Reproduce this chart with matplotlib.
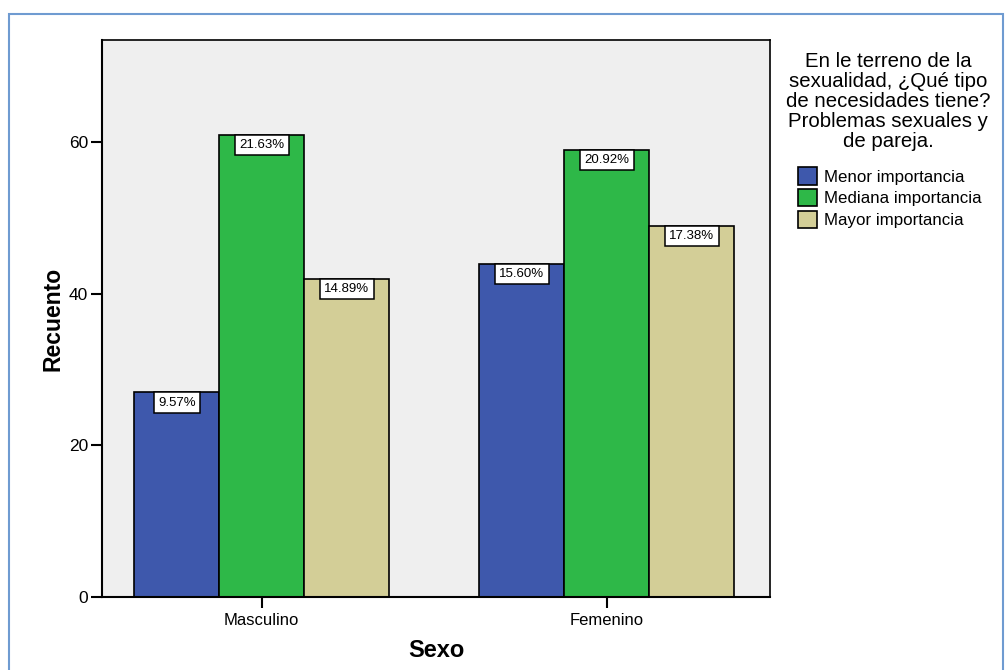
import numpy as np
import matplotlib.pyplot as plt
from matplotlib.patches import Rectangle

plt.rcParams['font.family'] = ['Liberation Sans', 'DejaVu Sans']

sexos = ['Masculino', 'Femenino']
categorias = ['Menor importancia', 'Mediana importancia', 'Mayor importancia']
recuentos = {
    'Menor importancia': [27, 44],
    'Mediana importancia': [61, 59],
    'Mayor importancia': [42, 49],
}
porcentajes = {
    'Menor importancia': ['9.57%', '15.60%'],
    'Mediana importancia': ['21.63%', '20.92%'],
    'Mayor importancia': ['14.89%', '17.38%'],
}
colores = ['#3e58ac', '#2eb848', '#d3ce97']
titulo_leyenda = ('En le terreno de la\nsexualidad, ¿Qué tipo\nde necesidades tiene?\n'
                  'Problemas sexuales y\nde pareja.')

fig = plt.figure(figsize=(10.08, 6.70), dpi=100)
ax = fig.add_axes([0.1012, 0.109, 0.6627, 0.831])
ax.set_facecolor('#efefef')

centros = np.array([0, 4.06])
for i, (cat, col) in enumerate(zip(categorias, colores)):
    xs = centros + (i - 1)
    bars = ax.bar(xs, recuentos[cat], width=1.0, color=col, edgecolor='black',
                  linewidth=1.2, label=cat)
    for b, txt in zip(bars, porcentajes[cat]):
        ax.text(b.get_x() + b.get_width() / 2, b.get_height() - 0.55, txt,
                ha='center', va='top', fontsize=9.5,
                bbox=dict(boxstyle='square,pad=0.32', facecolor='white',
                          edgecolor='black', linewidth=1.1))

ax.set_xlim(-1.88, 5.98)
ax.set_ylim(0, 73.5)
ax.set_xticks(centros)
ax.set_xticklabels(sexos, fontsize=12)
ax.set_yticks([0, 20, 40, 60])
ax.tick_params(axis='y', labelsize=12.5, length=8, width=1.5, pad=2)
ax.tick_params(axis='x', length=8, width=1.5)
for s in ax.spines.values():
    s.set_linewidth(1.2)
ax.spines['left'].set_linewidth(1.5)
ax.spines['bottom'].set_linewidth(1.5)

ax.set_xlabel('Sexo', fontsize=17, fontweight='bold', labelpad=8)
ax.set_ylabel('Recuento', fontsize=16.5, fontweight='bold', labelpad=3)

fig.text(0.881, 1 - 52 / 670, titulo_leyenda, ha='center', va='top',
         fontsize=14.7, linespacing=1.06, multialignment='center')
fig.legend(loc='upper left', bbox_to_anchor=(783 / 1008, 1 - 152 / 670),
           frameon=False, fontsize=12.2, handlelength=1.1, handleheight=1.2,
           handletextpad=0.4, labelspacing=0.25)

fig.patches.append(Rectangle((9 / 1008, -0.01), 994 / 1008, (670 - 14) / 670 + 0.01,
                             transform=fig.transFigure, fill=False,
                             edgecolor='#6f9bd1', linewidth=1.5))

fig.savefig('out.png', dpi=100)
